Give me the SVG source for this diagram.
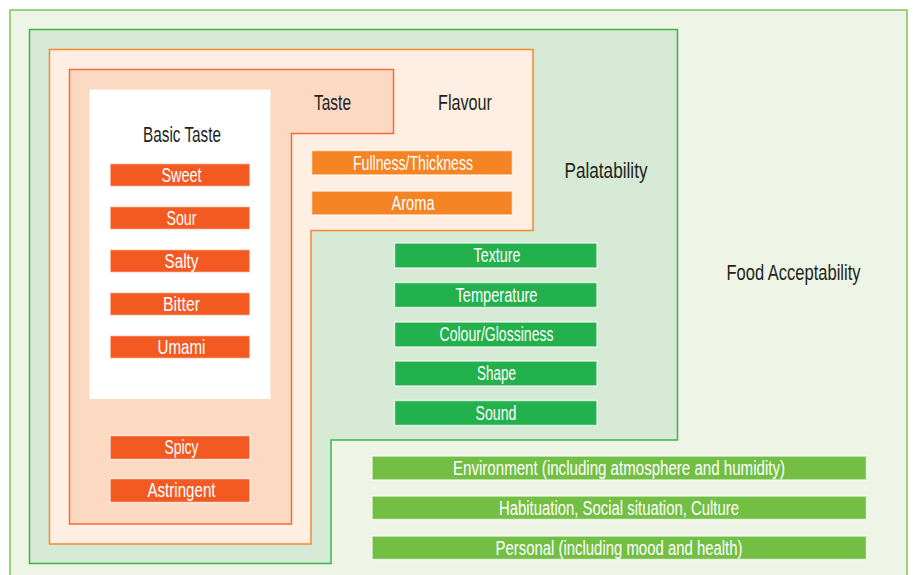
<svg xmlns="http://www.w3.org/2000/svg" width="913" height="575" viewBox="0 0 913 575">
  <style>
    .lbl { font-family: "Liberation Sans", Arial, sans-serif; fill: #231F20; font-size: 22.5px; }
    .bt { font-family: "Liberation Sans", Arial, sans-serif; fill: #FFFFFF; font-size: 20px; text-anchor: middle; }
    .bar { stroke: #FFFFFF; stroke-opacity: 0.7; stroke-width: 1.5; }
    .taste-bar { fill: #F35A22; }
    .flav-bar { fill: #F58424; }
    .pal-bar { fill: #23B14D; }
    .acc-bar { fill: #72BF44; }
  </style>
  <rect width="913" height="575" fill="#FFFFFF"/>

  <!-- Food Acceptability region -->
  <g id="food-acceptability">
    <rect x="10" y="10" width="897" height="575" fill="#EFF5E6" stroke="#7EC65C" stroke-width="1.5"/>
    <text class="lbl" x="726.5" y="280" textLength="134" lengthAdjust="spacingAndGlyphs">Food Acceptability</text>
  </g>

  <!-- Palatability region -->
  <g id="palatability">
    <polygon points="29.5,29.5 677.5,29.5 677.5,440 331,440 331,563.5 29.5,563.5" fill="#D5E9D4" stroke="#3DB54A" stroke-width="1.5"/>
    <text class="lbl" x="564.5" y="177.5" textLength="83" lengthAdjust="spacingAndGlyphs">Palatability</text>
  </g>

  <!-- Flavour region -->
  <g id="flavour">
    <polygon points="49.5,49.5 533,49.5 533,230.5 311,230.5 311,544 49.5,544" fill="#FEEFE2" stroke="#F68B30" stroke-width="1.5"/>
    <text class="lbl" x="438" y="109.5" textLength="54" lengthAdjust="spacingAndGlyphs">Flavour</text>
  </g>

  <!-- Taste region -->
  <g id="taste">
    <polygon points="69.5,69.5 393.5,69.5 393.5,133.5 291.5,133.5 291.5,524 69.5,524" fill="#FCD9C3" stroke="#F26B38" stroke-width="1.5"/>
    <text class="lbl" x="314" y="109.5" textLength="37" lengthAdjust="spacingAndGlyphs">Taste</text>
  </g>

  <!-- Basic Taste box -->
  <g id="basic-taste">
    <rect x="89.5" y="89.5" width="181" height="309.5" fill="#FFFFFF"/>
    <text class="lbl" x="143" y="142" textLength="78" lengthAdjust="spacingAndGlyphs">Basic Taste</text>
  </g>

  <!-- Basic taste items -->
  <g id="sweet"><rect class="bar taste-bar" x="110" y="163.5" width="140" height="23"/><text class="bt" x="181.5" y="182" textLength="40" lengthAdjust="spacingAndGlyphs">Sweet</text></g>
  <g id="sour"><rect class="bar taste-bar" x="110" y="206.5" width="140" height="23"/><text class="bt" x="181.5" y="225" textLength="30" lengthAdjust="spacingAndGlyphs">Sour</text></g>
  <g id="salty"><rect class="bar taste-bar" x="110" y="249.5" width="140" height="23"/><text class="bt" x="181.5" y="268" textLength="34" lengthAdjust="spacingAndGlyphs">Salty</text></g>
  <g id="bitter"><rect class="bar taste-bar" x="110" y="292.5" width="140" height="23"/><text class="bt" x="181.5" y="311" textLength="37" lengthAdjust="spacingAndGlyphs">Bitter</text></g>
  <g id="umami"><rect class="bar taste-bar" x="110" y="335.5" width="140" height="23"/><text class="bt" x="181.5" y="354" textLength="48" lengthAdjust="spacingAndGlyphs">Umami</text></g>

  <!-- Other taste items -->
  <g id="spicy"><rect class="bar taste-bar" x="110" y="435.5" width="140" height="24"/><text class="bt" x="181.5" y="454" textLength="34" lengthAdjust="spacingAndGlyphs">Spicy</text></g>
  <g id="astringent"><rect class="bar taste-bar" x="110" y="478.5" width="140" height="24"/><text class="bt" x="181.5" y="497" textLength="68" lengthAdjust="spacingAndGlyphs">Astringent</text></g>

  <!-- Flavour items -->
  <g id="fullness"><rect class="bar flav-bar" x="311.5" y="150.5" width="201" height="24.5"/><text class="bt" x="413" y="169.5" textLength="120" lengthAdjust="spacingAndGlyphs">Fullness/Thickness</text></g>
  <g id="aroma"><rect class="bar flav-bar" x="311.5" y="191" width="201" height="24"/><text class="bt" x="413" y="210" textLength="43" lengthAdjust="spacingAndGlyphs">Aroma</text></g>

  <!-- Palatability items -->
  <g id="texture"><rect class="bar pal-bar" x="394.5" y="243" width="202.5" height="25"/><text class="bt" x="497" y="262" textLength="47" lengthAdjust="spacingAndGlyphs">Texture</text></g>
  <g id="temperature"><rect class="bar pal-bar" x="394.5" y="282.5" width="202.5" height="25"/><text class="bt" x="496.5" y="301.5" textLength="82" lengthAdjust="spacingAndGlyphs">Temperature</text></g>
  <g id="colour"><rect class="bar pal-bar" x="394.5" y="322" width="202.5" height="25"/><text class="bt" x="496.5" y="341" textLength="114" lengthAdjust="spacingAndGlyphs">Colour/Glossiness</text></g>
  <g id="shape"><rect class="bar pal-bar" x="394.5" y="361" width="202.5" height="25"/><text class="bt" x="496.5" y="380" textLength="39" lengthAdjust="spacingAndGlyphs">Shape</text></g>
  <g id="sound"><rect class="bar pal-bar" x="394.5" y="400.5" width="202.5" height="25"/><text class="bt" x="496" y="419.5" textLength="41" lengthAdjust="spacingAndGlyphs">Sound</text></g>

  <!-- Food acceptability items -->
  <g id="environment"><rect class="bar acc-bar" x="372" y="456" width="494.5" height="24"/><text class="bt" x="619" y="474.5" textLength="332" lengthAdjust="spacingAndGlyphs">Environment (including atmosphere and humidity)</text></g>
  <g id="habituation"><rect class="bar acc-bar" x="372" y="496" width="494.5" height="23.5"/><text class="bt" x="619" y="514.5" textLength="240" lengthAdjust="spacingAndGlyphs">Habituation, Social situation, Culture</text></g>
  <g id="personal"><rect class="bar acc-bar" x="372" y="536" width="494.5" height="23.5"/><text class="bt" x="619" y="554.5" textLength="247" lengthAdjust="spacingAndGlyphs">Personal (including mood and health)</text></g>

  <!-- No connectors in this diagram -->
  <g id="connectors"/>
</svg>
